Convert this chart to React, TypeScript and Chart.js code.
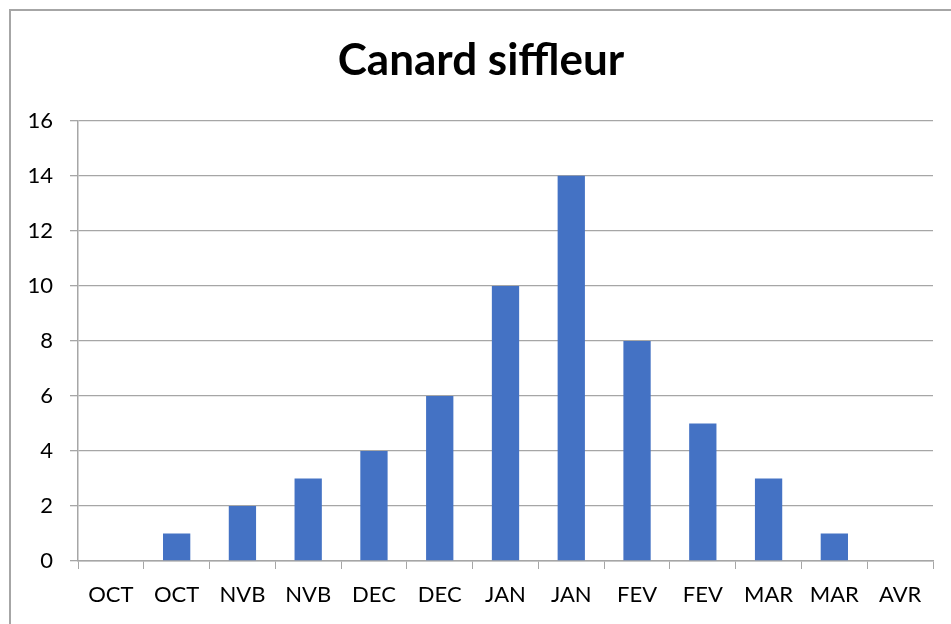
import React, { useEffect, useRef } from "react";
import { Chart, registerables } from "chart.js";

Chart.register(...registerables);

const categories = ["OCT", "OCT", "NVB", "NVB", "DEC", "DEC", "JAN", "JAN", "FEV", "FEV", "MAR", "MAR", "AVR"];
const values = [0, 1, 2, 3, 4, 6, 10, 14, 8, 5, 3, 1, 0];
const yTicks = [0, 2, 4, 6, 8, 10, 12, 14, 16];
const title = "Canard siffleur";

export default function App() {
  const ref = useRef<HTMLCanvasElement | null>(null);
  useEffect(() => {
    if (!ref.current) return;
    const chart = new Chart(ref.current, {
      type: "bar",
      data: {
        labels: categories,
        datasets: [
          {
            data: values,
            backgroundColor: "#4472C4",
            barPercentage: 0.415,
            categoryPercentage: 1,
          },
        ],
      },
      options: {
        animation: false,
        responsive: false,
        maintainAspectRatio: false,
        layout: { padding: { left: 0, right: 0, top: 0, bottom: 0 } },
        plugins: {
          legend: { display: false },
          tooltip: { enabled: false },
          title: {
            display: true,
            text: title,
            color: "#000",
            font: { family: "Lato", size: 44, weight: "bold" },
            padding: { top: 23, bottom: 34 },
          },
        },
        scales: {
          x: {
            grid: {
              display: true,
              drawOnChartArea: false,
              drawTicks: true,
              tickLength: 8,
              color: "#a6a6a6",
              offset: true,
            },
            border: { display: true, color: "#a6a6a6", width: 1.5 },
            ticks: {
              color: "#000",
              font: { family: "Lato", size: 22 },
              padding: 13,
              maxRotation: 0,
              autoSkip: false,
            },
            afterFit: (s: any) => {
              s.height = 63;
            },
          },
          y: {
            min: 0,
            max: 16,
            afterBuildTicks: (s: any) => {
              s.ticks = yTicks.map((v) => ({ value: v }));
            },
            grid: {
              color: "#a6a6a6",
              lineWidth: 1.3,
              tickLength: 8,
            },
            border: { display: true, color: "#a6a6a6", width: 1.5 },
            ticks: {
              color: "#000",
              font: { family: "Lato", size: 22 },
              padding: 17,
            },
            afterFit: (s: any) => {
              s.width = 67;
            },
          },
          yRight: {
            position: "right",
            min: 0,
            max: 16,
            grid: { display: false, drawTicks: false },
            ticks: { display: false },
            border: { display: false },
            afterFit: (s: any) => {
              s.width = 18;
            },
          },
        },
      },
    });
    return () => chart.destroy();
  }, []);
  return (
    <div
      style={{
        position: "absolute",
        left: 9,
        top: 9,
        width: 942,
        height: 615,
        borderLeft: "2px solid #a6a6a6",
        borderTop: "2px solid #a6a6a6",
        boxSizing: "border-box",
        background: "#fff",
      }}
    >
      <canvas ref={ref} width={940} height={613} style={{ display: "block" }} />
    </div>
  );
}
